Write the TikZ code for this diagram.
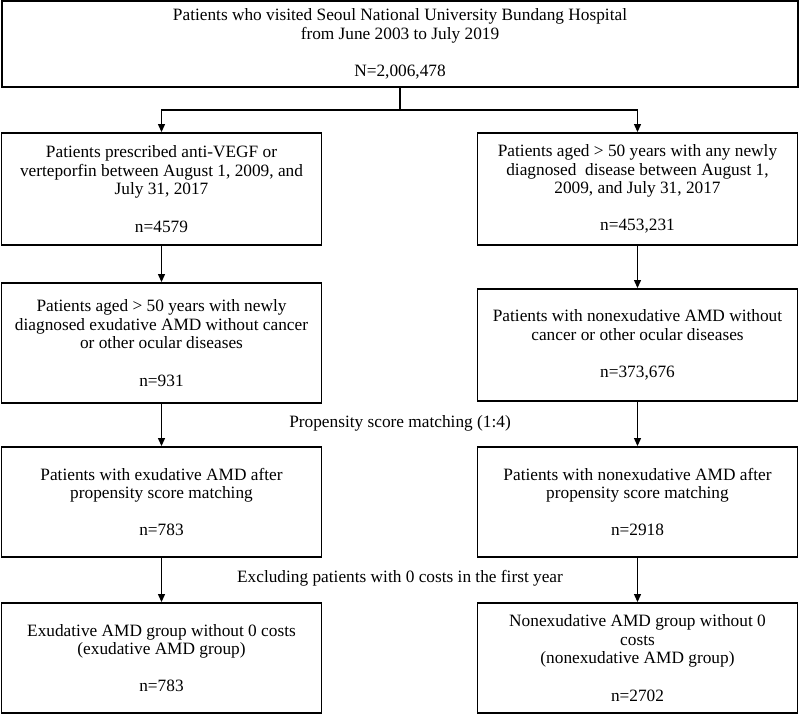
\documentclass[tikz,border=0pt]{standalone}
\usepackage{fontspec}
\setmainfont{Liberation Serif}
\usetikzlibrary{arrows.meta}
\begin{document}
\begin{tikzpicture}[x=1pt,y=-1pt,
  box/.style={draw=black,line width=1.9pt,rectangle,align=center,inner sep=0pt,
    font=\fontsize{17.3}{18.6}\selectfont},
  arr/.style={line width=1.2pt,-{Triangle[length=8pt,width=7pt]}},
  lbl/.style={font=\fontsize{17.3}{18.6}\selectfont,inner sep=0pt}]
\useasboundingbox (0,0) rectangle (800,716);
\node[box,minimum width=796pt,minimum height=86pt] (top) at (400,44)
  {Patients who visited Seoul National University Bundang Hospital\\from June 2003 to July 2019\\[18.6pt]N=2,006,478};
\node[box,minimum width=320pt,minimum height=112pt] (l1) at (161.5,189)
  {Patients prescribed anti-VEGF or\\verteporfin between August 1, 2009, and\\July 31, 2017\\[18.6pt]n=4579};
\node[box,minimum width=320pt,minimum height=112pt] (r1) at (637.5,189)
  {Patients aged > 50 years with any newly\\diagnosed\ \ disease between August 1,\\2009, and July 31, 2017\\[18.6pt]n=453,231};
\node[box,minimum width=320pt,minimum height=120pt] (l2) at (161.5,343)
  {Patients aged > 50 years with newly\\diagnosed exudative AMD without cancer\\or other ocular diseases\\[18.6pt]n=931};
\node[box,minimum width=320pt,minimum height=112pt] (r2) at (637.5,345)
  {Patients with nonexudative AMD without\\cancer or other ocular diseases\\[18.6pt]n=373,676};
\node[box,minimum width=320pt,minimum height=110pt] (l3) at (161.5,502)
  {Patients with exudative AMD after\\propensity score matching\\[18.6pt]n=783};
\node[box,minimum width=320pt,minimum height=110pt] (r3) at (637.5,502)
  {Patients with nonexudative AMD after\\propensity score matching\\[18.6pt]n=2918};
\node[box,minimum width=320pt,minimum height=110pt] (l4) at (161.5,658)
  {Exudative AMD group without 0 costs\\(exudative AMD group)\\[18.6pt]n=783};
\node[box,minimum width=320pt,minimum height=110pt] (r4) at (637.5,658)
  {Nonexudative AMD group without 0\\costs\\(nonexudative AMD group)\\[18.6pt]n=2702};
\node[lbl] (psm) at (400,423) {Propensity score matching (1:4)};
\node[lbl] (exc) at (400,578) {Excluding patients with 0 costs in the first year};
\draw[line width=1.2pt] (top.south) -- ++(0,22) coordinate (split);
\draw[arr] (split) -| (l1.north);
\draw[arr] (split) -| (r1.north);
\draw[arr] (l1.south) -- (l2.north);
\draw[arr] (r1.south) -- (r2.north);
\draw[arr] (l2.south) -- (l3.north);
\draw[arr] (r2.south) -- (r3.north);
\draw[arr] (l3.south) -- (l4.north);
\draw[arr] (r3.south) -- (r4.north);
\end{tikzpicture}
\end{document}
